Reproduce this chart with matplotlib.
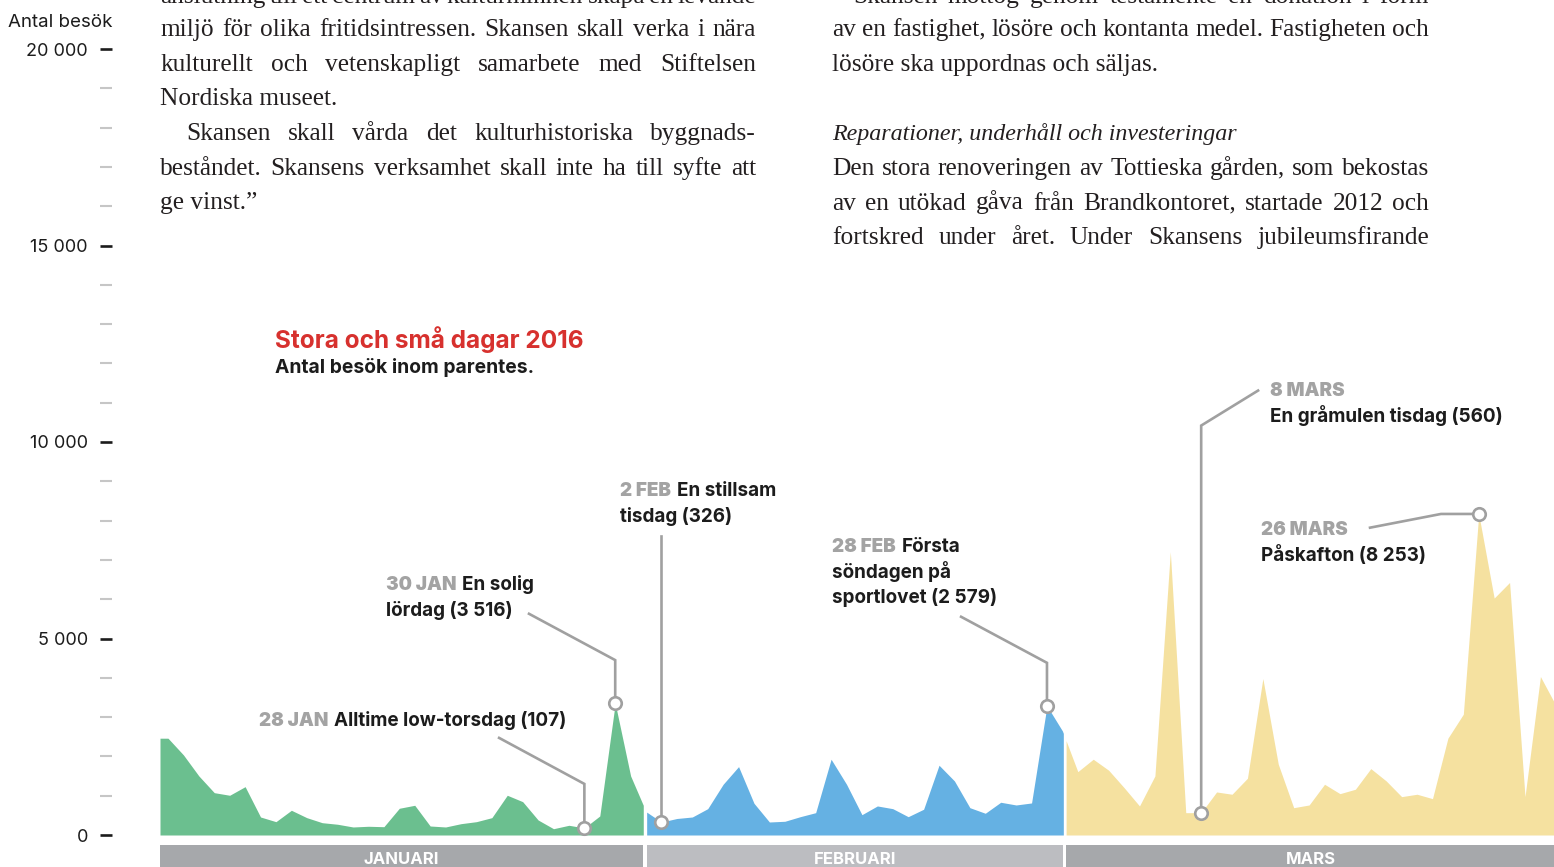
import numpy as np
import matplotlib
matplotlib.use("Agg")
from matplotlib import pyplot as plt
from matplotlib.ticker import MultipleLocator, FuncFormatter
from matplotlib.patches import Rectangle
import matplotlib.transforms as mtransforms

# daily visits 2016 (one value per day)
jan_visits = [2463, 2038, 1503, 1077, 1011, 1230, 458, 339, 629, 441, 313, 273, 204, 222, 211, 680,
              756, 229, 204, 288, 339, 441, 1011, 848, 382, 160, 247, 180, 484, 3350, 1503]
feb_visits = [593, 330, 420, 458, 670, 1291, 1740, 807, 331, 349, 466, 568, 1928, 1291, 517, 739,
              670, 466, 655, 1775, 1375, 695, 553, 833, 764, 815, 3286, 2649, 1612]
mar_visits = [1928, 1648, 1205, 739, 1503, 7208, 568, 568, 1095, 1037, 1444, 3981, 1801, 695, 764,
              1291, 1052, 1164, 1689, 1375, 976, 1037, 925, 2463, 3074, 8169, 6029, 6426, 976, 4032, 3300]

months = ["JANUARI", "FEBRUARI", "MARS"]
month_colors = ["#6bbf8f", "#65b1e3", "#f5e1a0"]
bar_colors = ["#a6a8ab", "#bcbdc1", "#a6a8ab"]
month_spans = [(-0.52, 30.82), (31.04, 58.06), (58.24, 89.96)]

# annotations: series index of the marked day, text, connector (start, elbow)
note_days = [27, 29, 32, 57, 67, 85]
note_dates = ["28 JAN", "30 JAN", "2 FEB", "28 FEB", "8 MARS", "26 MARS"]
note_first = ["Alltime low-torsdag (107)", "En solig", "En stillsam", "Första", None, None]
note_more = [[], ["lördag (3 516)"], ["tisdag (326)"], ["söndagen på", "sportlovet (2 579)"],
             ["En gråmulen tisdag (560)"], ["Påskafton (8 253)"]]
note_pos = [(259, 726), (386, 590), (620, 496), (832, 552), (1270, 396), (1261, 535)]
note_start = [(21.47, 2471), (23.41, 5629), None, (51.43, 5553), (70.69, 11309), (77.95, 7820)]
note_elbow = [1300, 4450, 7616, 4381, 10418, None]

left_col = ["anslutning till ett centrum av kulturminnen skapa en levande",
            "miljö för olika fritidsintressen. Skansen skall verka i nära",
            "kulturellt och vetenskapligt samarbete med Stiftelsen",
            "Nordiska museet.",
            "Skansen skall vårda det kulturhistoriska byggnads-",
            "beståndet. Skansens verksamhet skall inte ha till syfte att",
            "ge vinst.”"]
right_col = ["Skansen mottog genom testamente en donation i form",
             "av en fastighet, lösöre och kontanta medel. Fastigheten och",
             "lösöre ska uppordnas och säljas.",
             "",
             "Reparationer, underhåll och investeringar",
             "Den stora renoveringen av Tottieska gården, som bekostas",
             "av en utökad gåva från Brandkontoret, startade 2012 och",
             "fortskred under året. Under Skansens jubileumsfirande"]

visits = np.array(jan_visits + feb_visits + mar_visits, dtype=float)
days = np.arange(len(visits))

W, H = 1554, 867
plt.rcParams['font.family'] = ['Inter', 'Lato', 'DejaVu Sans']
GRAY = "#a3a3a3"
INK = "#1c1c1c"
LINE = "#a0a0a0"


def px(x, y):
    return x / W, 1 - y / H


fig = plt.figure(figsize=(W / 100, H / 100), dpi=100)
ax = fig.add_axes([160 / W, (H - 835) / H, (W - 160) / W, 786 / H])
ax.set_xlim(-0.52, 89.88)
ax.set_ylim(0, 20000)

# areas, one per month panel
for span, col in zip(month_spans, month_colors):
    a, b = span
    inner = days[(days > a) & (days < b)]
    xs = np.concatenate([[a], inner, [b]])
    ys = np.interp(xs, days, visits)
    ax.fill_between(xs, 0, ys, color=col, lw=0)

# month bars under the chart
trans = mtransforms.blended_transform_factory(ax.transData, ax.transAxes)
for span, name, col in zip(month_spans, months, bar_colors):
    a, b = span
    ax.add_patch(Rectangle((a, -0.08), b - a, 0.08 - 0.0127, transform=trans,
                           color=col, lw=0, clip_on=False))
    ax.text((a + b) / 2, -0.0369, name, transform=trans, ha='center', va='baseline',
            color='white', fontsize=12, fontweight='bold', clip_on=False)

# y axis
for s in ax.spines.values():
    s.set_visible(False)
ax.spines['left'].set_position(('outward', 48 * 0.72))
ax.set_xticks([])
ax.yaxis.set_major_locator(MultipleLocator(5000))
ax.yaxis.set_minor_locator(MultipleLocator(1000))
ax.yaxis.set_major_formatter(FuncFormatter(lambda v, p: f"{v:,.0f}".replace(",", " ")))
ax.tick_params(axis='y', which='major', length=12 * 0.72, width=1.9, color=INK,
               pad=12 * 0.72, labelsize=13, labelcolor=INK)
ax.tick_params(axis='y', which='minor', length=12 * 0.72, width=1.5, color="#c6c6c6")
fig.text(*px(113, 27), "Antal besök", ha='right', va='baseline', fontsize=13.5, color=INK)

# title
fig.text(*px(275, 348), "Stora och små dagar 2016", color="#d7312e", fontsize=17.6,
         fontweight='bold', va='baseline')
fig.text(*px(275, 373), "Antal besök inom parentes.", color=INK, fontsize=13.9,
         fontweight='bold', va='baseline')

# annotations
FS = 13.6
for i in range(len(note_days)):
    d = note_days[i]
    v = visits[d]
    if note_start[i] is None:
        path = [(d, note_elbow[i]), (d, v)]
    elif note_elbow[i] is None:
        path = [note_start[i], (d - 2.45, v), (d, v)]
    else:
        path = [note_start[i], (d, note_elbow[i]), (d, v)]
    xs, ys = zip(*path)
    ax.plot(xs, ys, color=LINE, lw=1.9, clip_on=False, zorder=4, solid_joinstyle='miter')
    ax.plot(d, v, 'o', ms=9, mfc='white', mec=LINE, mew=1.9, clip_on=False, zorder=5)

    x0, y0 = note_pos[i]
    t = fig.text(*px(x0, y0), note_dates[i], color=GRAY, fontsize=FS, fontweight='black',
                 va='baseline')
    if note_first[i]:
        ax.annotate(note_first[i], xy=(1, px(x0, y0)[1]), xycoords=(t, 'figure fraction'),
                    xytext=(4, 0), textcoords='offset points', va='baseline',
                    color=INK, fontsize=FS, fontweight='bold', annotation_clip=False)
    for k, line in enumerate(note_more[i]):
        fig.text(*px(x0, y0 + 25.5 * (k + 1)), line, color=INK, fontsize=FS,
                 fontweight='bold', va='baseline')

# body text columns, justified
renderer = fig.canvas.get_renderer()
SERIF = dict(family=['Liberation Serif', 'DejaVu Serif'], fontsize=18.3, color="#231f20",
             va='baseline')


def body_line(x0, x1, y, text, justify=True, **extra):
    kw = dict(SERIF, **extra)
    if not justify:
        fig.text(*px(x0, y), text, **kw)
        return
    words = text.split()
    objs = [fig.text(0, 1 - y / H, w, **kw) for w in words]
    widths = [o.get_window_extent(renderer).width for o in objs]
    gap = (x1 - x0 - sum(widths)) / (len(words) - 1)
    x = x0
    for o, w in zip(objs, widths):
        o.set_x(x / W)
        x += w + gap


base = [3, 36, 70.7, 105.4, 140.1, 174.8, 209.5, 244.2]
left_just = [True, True, True, False, True, True, False]
left_x0 = [160, 160, 160, 160, 186, 160, 160]
for k, line in enumerate(left_col):
    body_line(left_x0[k], 756, base[k], line, left_just[k])

right_just = [True, True, False, None, False, True, True, True]
right_x0 = [853, 832, 832, 832, 832, 832, 832, 832]
for k, line in enumerate(right_col):
    if not line:
        continue
    extra = {'style': 'italic', 'fontsize': 17.3} if k == 4 else {}
    body_line(right_x0[k], 1429, base[k], line, right_just[k], **extra)

fig.savefig("out.png", dpi=100)
